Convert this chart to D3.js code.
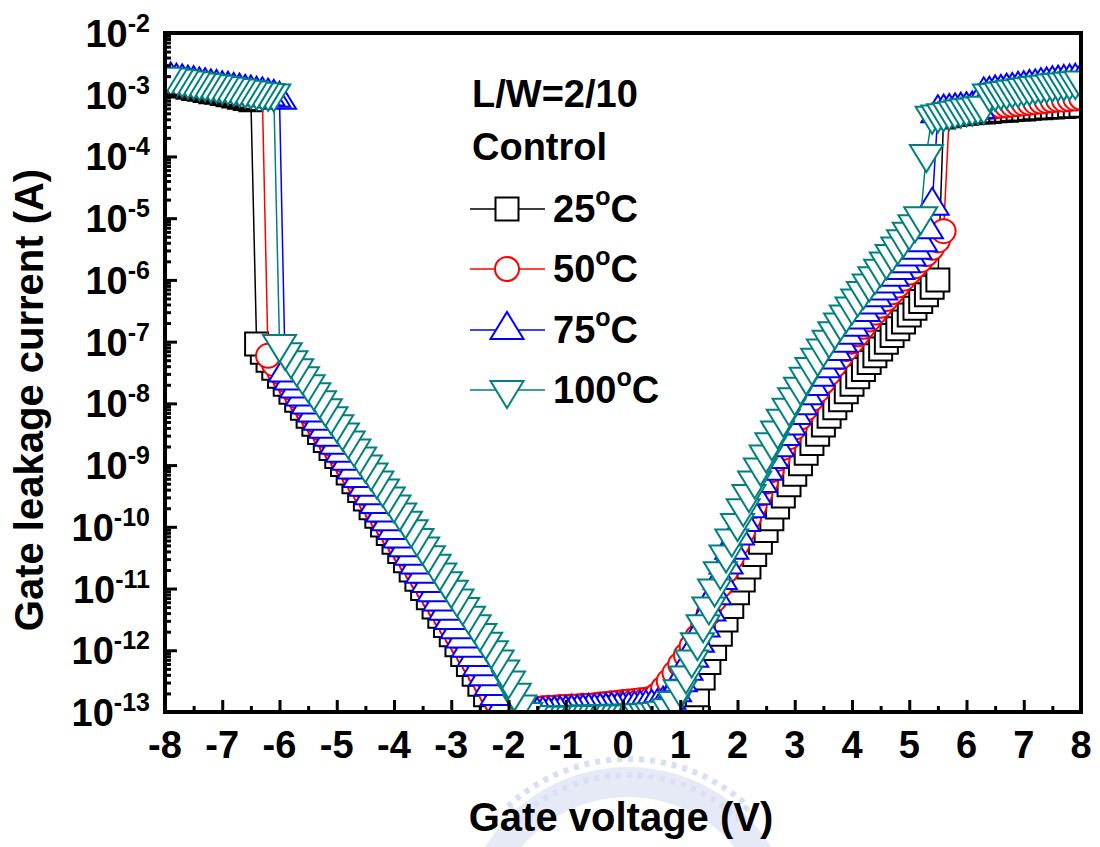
<!DOCTYPE html>
<html><head><meta charset="utf-8">
<script src="https://cdn.jsdelivr.net/npm/d3@7"></script>
<style>
body{margin:0;background:#fff}
svg{display:block}
text{font-family:"Liberation Sans",Arial,Helvetica,sans-serif;font-weight:bold;fill:#000}
</style>
</head><body>
<svg id="chart" width="1100" height="847"></svg>
<script>
// ---------- DATA ----------
// gate voltage sweep: -8 V .. 8 V, 0.1 V step (161 points per curve)
const vStart = -8, vStep = 0.1;
const xTickValues = [-8,-7,-6,-5,-4,-3,-2,-1,0,1,2,3,4,5,6,7,8];
const yTickExponents = [-13,-12,-11,-10,-9,-8,-7,-6,-5,-4,-3,-2];
const seriesLabels = ["25", "50", "75", "100"];
const titleLines = ["L/W=2/10", "Control"];

// log10 of gate leakage current (A)
const logI_25C = [
-2.80,-2.82,-2.84,-2.86,-2.88,-2.90,-2.91,-2.93,-2.95,-2.96,-2.98,-3.00,-3.02,-3.04,-3.06,-3.08,
-7.04,-7.17,-7.30,-7.43,-7.56,-7.69,-7.82,-7.95,-8.08,-8.21,-8.34,-8.47,-8.60,-8.73,-8.86,-8.99,-9.13,-9.27,-9.41,-9.55,-9.69,-9.83,-9.97,-10.11,-10.25,-10.40,-10.55,-10.70,-10.85,-11.00,-11.15,-11.30,-11.45,-11.60,-11.75,-11.91,-12.07,-12.23,-12.39,-12.55,-12.72,-12.90,
-13.15,-13.35,-13.45,-13.50,-13.52,-13.55,-13.56,-13.58,-13.60,-13.60,-13.61,-13.62,-13.62,-13.62,-13.63,-13.63,-13.63,-13.62,-13.62,-13.61,-13.60,-13.60,-13.58,-13.57,-13.55,-13.54,-13.52,-13.50,-13.47,-13.44,-13.40,-13.35,-13.27,-13.15,
-13.00,-12.72,-12.45,-12.20,-11.97,-11.74,-11.51,-11.29,-11.07,-10.86,-10.65,-10.45,-10.25,-10.06,-9.87,-9.68,-9.50,-9.32,-9.15,-8.98,-8.81,-8.65,-8.50,-8.35,-8.21,-8.07,-7.94,-7.81,-7.69,-7.57,-7.45,-7.34,-7.23,-7.12,-7.01,-6.90,-6.79,-6.68,-6.57,-6.46,-6.35,-6.24,-6.12,-6.00,
-3.36,-3.34,-3.32,-3.31,-3.30,-3.29,-3.28,-3.28,-3.27,-3.26,-3.25,-3.25,-3.24,-3.23,-3.23,-3.22,-3.21,-3.21,-3.20,-3.20,-3.19,-3.19,-3.18,-3.18,-3.17
];
const logI_50C = [
-2.76,-2.78,-2.79,-2.81,-2.82,-2.84,-2.85,-2.87,-2.88,-2.90,-2.91,-2.93,-2.94,-2.96,-2.97,-2.99,-3.00,-3.02,
-7.23,-7.36,-7.49,-7.62,-7.75,-7.88,-8.01,-8.14,-8.27,-8.40,-8.53,-8.66,-8.79,-8.92,-9.05,-9.18,-9.32,-9.46,-9.60,-9.74,-9.88,-10.02,-10.16,-10.30,-10.44,-10.58,-10.72,-10.87,-11.02,-11.17,-11.32,-11.47,-11.62,-11.77,-11.92,-12.07,-12.22,-12.38,-12.54,-12.70,-12.86,-13.02,
-13.05,-13.05,-13.00,-12.98,-12.97,-12.95,-12.94,-12.93,-12.93,-12.92,-12.92,-12.91,-12.91,-12.90,-12.90,-12.89,-12.88,-12.87,-12.86,-12.85,-12.84,-12.83,-12.82,-12.81,-12.80,-12.78,
-12.72,-12.62,-12.50,-12.37,-12.23,-12.08,-11.93,-11.78,-11.60,-11.40,-11.18,-10.95,-10.72,-10.50,-10.28,-10.07,-9.86,-9.66,-9.46,-9.27,-9.08,-8.90,-8.72,-8.55,-8.39,-8.23,-8.08,-7.93,-7.79,-7.65,-7.51,-7.38,-7.25,-7.12,-7.00,-6.88,-6.76,-6.64,-6.53,-6.42,-6.31,-6.20,-6.09,-5.98,-5.88,-5.78,-5.68,-5.58,-5.48,-5.36,-5.21,
-3.30,-3.28,-3.26,-3.25,-3.24,-3.22,-3.21,-3.20,-3.19,-3.18,-3.17,-3.16,-3.15,-3.14,-3.13,-3.12,-3.11,-3.10,-3.09,-3.08,-3.08,-3.07,-3.06,-3.05
];
const logI_75C = [
-2.76,-2.77,-2.79,-2.80,-2.82,-2.83,-2.85,-2.86,-2.88,-2.89,-2.91,-2.92,-2.94,-2.95,-2.97,-2.98,-3.00,-3.01,-3.03,-3.05,-3.08,
-7.50,-7.63,-7.76,-7.89,-8.02,-8.15,-8.28,-8.41,-8.54,-8.67,-8.80,-8.93,-9.07,-9.21,-9.35,-9.49,-9.63,-9.77,-9.91,-10.05,-10.19,-10.33,-10.47,-10.61,-10.76,-10.91,-11.06,-11.21,-11.36,-11.51,-11.66,-11.81,-11.96,-12.11,-12.26,-12.42,-12.58,-12.74,-12.90,-13.05,
-13.10,-13.10,-13.08,-13.07,-13.06,-13.05,-13.05,-13.04,-13.04,-13.03,-13.02,-13.02,-13.01,-13.00,-13.00,-12.99,-12.99,-12.98,-12.98,-12.97,-12.97,-12.96,-12.95,-12.94,-12.93,-12.92,
-12.88,-12.80,-12.68,-12.52,-12.33,-12.12,-11.88,-11.63,-11.37,-11.11,-10.86,-10.61,-10.37,-10.14,-9.92,-9.70,-9.49,-9.29,-9.09,-8.90,-8.71,-8.53,-8.36,-8.19,-8.03,-7.87,-7.72,-7.57,-7.43,-7.29,-7.15,-7.02,-6.89,-6.76,-6.64,-6.52,-6.40,-6.28,-6.17,-6.06,-5.95,-5.84,-5.73,-5.62,-5.51,-5.39,-5.18,-4.80,
-3.30,-3.29,-3.28,-3.27,-3.26,-3.25,-3.24,-3.23,-3.01,-3.00,-2.98,-2.97,-2.95,-2.94,-2.92,-2.91,-2.89,-2.88,-2.86,-2.85,-2.83,-2.82,-2.81,-2.80,-2.79,-2.78
];
const logI_100C = [
-2.71,-2.72,-2.74,-2.75,-2.77,-2.78,-2.80,-2.81,-2.83,-2.84,-2.86,-2.87,-2.89,-2.90,-2.92,-2.93,-2.95,-2.96,-2.97,-2.98,
-7.04,-7.17,-7.30,-7.43,-7.56,-7.69,-7.82,-7.95,-8.08,-8.21,-8.34,-8.47,-8.60,-8.73,-8.86,-8.99,-9.12,-9.25,-9.38,-9.51,-9.64,-9.77,-9.90,-10.04,-10.18,-10.32,-10.46,-10.60,-10.74,-10.88,-11.02,-11.16,-11.30,-11.44,-11.58,-11.72,-11.86,-12.00,-12.15,-12.31,-12.49,-12.69,
-12.88,-13.00,-13.05,-13.06,-13.06,-13.06,-13.06,-13.05,-13.05,-13.05,-13.05,-13.04,-13.04,-13.04,-13.04,-13.04,-13.04,-13.03,-13.03,-13.03,-13.03,-13.02,-13.02,-13.01,-13.00,-12.98,-12.94,
-12.82,-12.63,-12.41,-12.15,-11.87,-11.58,-11.29,-11.00,-10.72,-10.45,-10.19,-9.94,-9.70,-9.47,-9.25,-9.04,-8.83,-8.63,-8.44,-8.25,-8.07,-7.90,-7.73,-7.57,-7.41,-7.26,-7.11,-6.97,-6.83,-6.69,-6.56,-6.43,-6.30,-6.18,-6.06,-5.94,-5.82,-5.70,-5.58,-5.46,-5.34,-5.22,-5.10,-4.97,
-3.96,-3.34,-3.32,-3.30,-3.28,-3.26,-3.24,-3.22,-3.21,-3.19,-3.18,-2.98,-2.97,-2.95,-2.94,-2.92,-2.91,-2.89,-2.88,-2.86,-2.85,-2.84,-2.82,-2.81,-2.80,-2.79,-2.78,-2.77
];

// ---------- STYLES ----------
const series = [
  {label: seriesLabels[0], vals: logI_25C,  color: "#000000", sym: "square"},
  {label: seriesLabels[1], vals: logI_50C,  color: "#ff0000", sym: "circle"},
  {label: seriesLabels[2], vals: logI_75C,  color: "#0000ff", sym: "up"},
  {label: seriesLabels[3], vals: logI_100C, color: "#008080", sym: "down"}
];

const svg = d3.select("#chart");
const L = 165, R = 1081, T = 33, B = 712;
const x = d3.scaleLinear().domain([-8, 8]).range([L, R]);
const y = d3.scaleLog().domain([1e-13, 1e-2]).range([B, T]);

// faint watermark emblem behind the x-axis title
const wm = svg.append("g").attr("opacity", 0.55);
const wmArc = d3.arc().innerRadius(138).outerRadius(168).startAngle(-1.2).endAngle(1.2);
wm.append("path").attr("d", wmArc()).attr("transform", "translate(628,935)").attr("fill", "#d3d9f2");
wm.append("path")
  .attr("d", d3.arc().innerRadius(160).outerRadius(176).startAngle(-0.75).endAngle(0.75)())
  .attr("transform", "translate(628,935)").attr("fill", "none")
  .attr("stroke", "#bcc5ec").attr("stroke-width", 6).attr("stroke-dasharray", "5 6");

function symPath(type) {
  if (type === "square") return "M-11.5,-11.5H11.5V11.5H-11.5Z";
  if (type === "circle") return "M12,0A12,12 0 1,1 -12,0A12,12 0 1,1 12,0Z";
  if (type === "up") return "M0,-18L16.5,9L-16.5,9Z";
  return "M0,18L16.5,-9L-16.5,-9Z";
}

svg.append("defs").append("clipPath").attr("id", "plotclip")
  .append("rect").attr("x", L).attr("y", T).attr("width", R - L).attr("height", B - T);

const plot = svg.append("g").attr("clip-path", "url(#plotclip)");

series.forEach(s => {
  const pts = s.vals.map((lv, i) => ({v: vStart + i * vStep, I: Math.pow(10, lv)}));
  const g = plot.append("g");
  g.append("path")
    .attr("d", d3.line().x(d => x(d.v)).y(d => y(d.I))(pts))
    .attr("fill", "none").attr("stroke", s.color).attr("stroke-width", 1.5);
  // points drawn from 0 V outward (two sweeps), later points on top
  const order = pts.slice().sort((a, b) => Math.abs(a.v) - Math.abs(b.v));
  g.selectAll("path.m").data(order).enter().append("path")
    .attr("class", "m")
    .attr("d", symPath(s.sym))
    .attr("transform", d => `translate(${x(d.v)},${y(d.I)})`)
    .attr("fill", "#fff").attr("stroke", s.color).attr("stroke-width", 2);
});

// ---------- AXES ----------
const majorY = yTickExponents.map(e => Math.pow(10, e));
const minorY = [];
yTickExponents.slice(0, -1).forEach(e => { for (let k = 2; k <= 9; k++) minorY.push(k * Math.pow(10, e)); });
const minorX = xTickValues.slice(0, -1).map(v => v + 0.5);

function styleAxis(g) {
  g.select(".domain").remove();
  g.selectAll("line").attr("stroke", "#000").attr("stroke-width", 3);
  g.selectAll("text").remove();
}
svg.append("g").attr("transform", `translate(${L},0)`)
  .call(d3.axisLeft(y).tickValues(majorY).tickSizeInner(-12).tickSizeOuter(0)).call(styleAxis);
svg.append("g").attr("transform", `translate(${L},0)`)
  .call(d3.axisLeft(y).tickValues(minorY).tickSizeInner(-6).tickSizeOuter(0)).call(styleAxis);
svg.append("g").attr("transform", `translate(0,${B})`)
  .call(d3.axisBottom(x).tickValues(xTickValues).tickSizeInner(-12).tickSizeOuter(0)).call(styleAxis);
svg.append("g").attr("transform", `translate(0,${B})`)
  .call(d3.axisBottom(x).tickValues(minorX).tickSizeInner(-6).tickSizeOuter(0)).call(styleAxis);

// frame
svg.append("rect").attr("x", L).attr("y", T).attr("width", R - L).attr("height", B - T)
  .attr("fill", "none").attr("stroke", "#000").attr("stroke-width", 4);

// y tick labels 10^n
yTickExponents.forEach(e => {
  const t = svg.append("text").attr("x", 150).attr("y", y(Math.pow(10, e)) + 14)
    .attr("text-anchor", "end").style("font-size", "38px");
  t.append("tspan").text("10");
  t.append("tspan").attr("dy", -15).style("font-size", "25px").text(String(e));
});
// x tick labels
xTickValues.forEach(v => {
  svg.append("text").attr("x", x(v)).attr("y", 758).attr("text-anchor", "middle")
    .style("font-size", "38px").text(String(v));
});

// axis titles
svg.append("text").attr("transform", "translate(43,400) rotate(-90)")
  .attr("text-anchor", "middle").style("font-size", "40px").text("Gate leakage current (A)");
svg.append("text").attr("x", 621).attr("y", 831).attr("text-anchor", "middle")
  .style("font-size", "40px").text("Gate voltage (V)");

// ---------- LEGEND ----------
svg.append("text").attr("x", 472).attr("y", 107).style("font-size", "38px").text(titleLines[0]);
svg.append("text").attr("x", 472).attr("y", 160).style("font-size", "38px").text(titleLines[1]);
const legY = [209, 269, 330, 390];
series.forEach((s, i) => {
  const g = svg.append("g").attr("transform", `translate(0,${legY[i]})`);
  g.append("line").attr("x1", 470).attr("x2", 545).attr("y1", 0).attr("y2", 0)
    .attr("stroke", s.color).attr("stroke-width", 1.5);
  g.append("path").attr("d", symPath(s.sym)).attr("transform", "translate(507,0)")
    .attr("fill", "#fff").attr("stroke", s.color).attr("stroke-width", 2);
  const t = g.append("text").attr("x", 553).attr("y", 13).style("font-size", "38px");
  t.append("tspan").text(s.label);
  t.append("tspan").attr("dy", -17).style("font-size", "25px").text("o");
  t.append("tspan").attr("dy", 17).text("C");
});
</script>
</body></html>
